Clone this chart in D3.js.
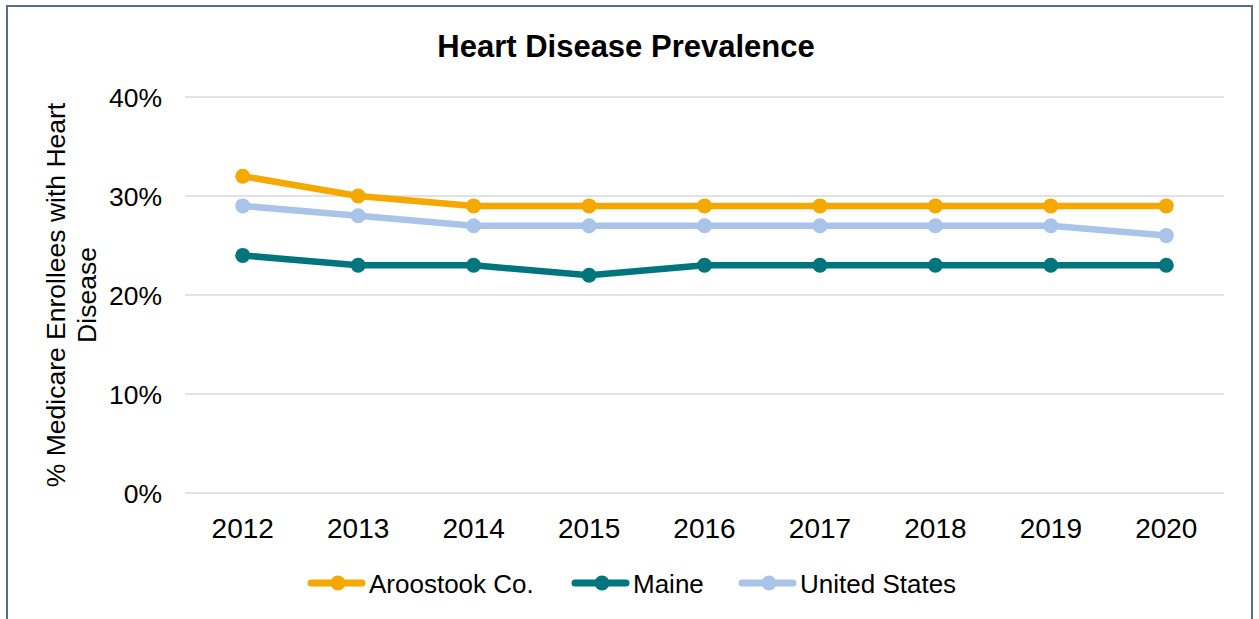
<!DOCTYPE html>
<html>
<head>
<meta charset="utf-8">
<script src="https://cdn.jsdelivr.net/npm/d3@7"></script>
<style>
  body { margin: 0; background: #fff; }
  svg { display: block; font-family: "Liberation Sans", Arial, sans-serif; }
</style>
</head>
<body>
<div id="chart"></div>
<script>
var years = ["2012","2013","2014","2015","2016","2017","2018","2019","2020"];
var aroostook = [32, 30, 29, 29, 29, 29, 29, 29, 29];
var maine = [24, 23, 23, 22, 23, 23, 23, 23, 23];
var unitedStates = [29, 28, 27, 27, 27, 27, 27, 27, 26];
var seriesNames = ["Aroostook Co.", "Maine", "United States"];
var yTicks = [0, 10, 20, 30, 40];

var colors = ["#F5A800", "#00757E", "#A9C4E8"];
var seriesData = [aroostook, maine, unitedStates];

var W = 1259, H = 619;
var margin = {left: 185, top: 97, right: 35, bottom: 126};

var svg = d3.select("#chart").append("svg")
  .attr("width", W)
  .attr("height", H);

// chart border
svg.append("rect")
  .attr("x", 7).attr("y", 6)
  .attr("width", 1245).attr("height", 640)
  .attr("fill", "none")
  .attr("stroke", "#5b6c86")
  .attr("stroke-width", 2);

var x = d3.scaleBand()
  .domain(years)
  .range([margin.left, W - margin.right]);

var y = d3.scaleLinear()
  .domain([0, 40])
  .range([H - margin.bottom, margin.top]);

// title
svg.append("text")
  .attr("x", 626).attr("y", 57)
  .attr("text-anchor", "middle")
  .style("font-size", "31px")
  .style("font-weight", "bold")
  .text("Heart Disease Prevalence");

// gridlines
svg.append("g")
  .selectAll("line")
  .data(yTicks)
  .enter().append("line")
  .attr("x1", margin.left).attr("x2", W - margin.right)
  .attr("y1", function(d) { return y(d); })
  .attr("y2", function(d) { return y(d); })
  .attr("stroke", "#d9d9d9")
  .attr("stroke-width", 1.5);

// y axis
var yAxis = svg.append("g")
  .attr("transform", "translate(" + (margin.left - 23) + ",0)")
  .call(d3.axisLeft(y).tickValues(yTicks).tickSize(0).tickPadding(0).tickFormat(function(d) { return d + "%"; }));
yAxis.select(".domain").remove();
yAxis.selectAll("text")
  .style("font-size", "26.5px")
  .style("font-family", "Liberation Sans, Arial, sans-serif")
  .attr("fill", "#000")
  .attr("dy", "0.35em");

// x axis
var xAxis = svg.append("g")
  .attr("transform", "translate(0,538)")
  .call(d3.axisBottom(x).tickSize(0).tickPadding(0));
xAxis.select(".domain").remove();
xAxis.selectAll("text")
  .style("font-size", "28px")
  .style("font-family", "Liberation Sans, Arial, sans-serif")
  .attr("fill", "#000")
  .attr("dy", "0");

// y axis title
var yTitle = svg.append("text")
  .attr("transform", "translate(65,295) rotate(-90)")
  .attr("text-anchor", "middle")
  .style("font-size", "26.5px");
yTitle.append("tspan").attr("x", 0).attr("dy", 0).text("% Medicare Enrollees with Heart");
yTitle.append("tspan").attr("x", 0).attr("dy", 31).text("Disease");

// lines
var line = d3.line()
  .x(function(d, i) { return x(years[i]) + x.bandwidth() / 2; })
  .y(function(d) { return y(d); });

var series = svg.selectAll("g.series")
  .data(seriesData)
  .enter().append("g")
  .attr("class", "series");

series.append("path")
  .attr("d", line)
  .attr("fill", "none")
  .attr("stroke", function(d, i) { return colors[i]; })
  .attr("stroke-width", 6.5)
  .attr("stroke-linejoin", "round");

series.each(function(vals, si) {
  d3.select(this).selectAll("circle")
    .data(vals)
    .enter().append("circle")
    .attr("cx", function(d, i) { return x(years[i]) + x.bandwidth() / 2; })
    .attr("cy", function(d) { return y(d); })
    .attr("r", 7.5)
    .attr("fill", colors[si]);
});

// legend
var legendX = [308, 572, 739];
var legend = svg.selectAll("g.legend")
  .data(seriesNames)
  .enter().append("g")
  .attr("class", "legend")
  .attr("transform", function(d, i) { return "translate(" + legendX[i] + ",583)"; });

legend.append("line")
  .attr("x1", 3).attr("x2", 54)
  .attr("stroke", function(d, i) { return colors[i]; })
  .attr("stroke-width", 7)
  .attr("stroke-linecap", "round");
legend.append("circle")
  .attr("cx", 30).attr("r", 7.5)
  .attr("fill", function(d, i) { return colors[i]; });
legend.append("text")
  .attr("x", 61).attr("y", 9.5)
  .style("font-size", "26px")
  .text(function(d) { return d; });
</script>
</body>
</html>
